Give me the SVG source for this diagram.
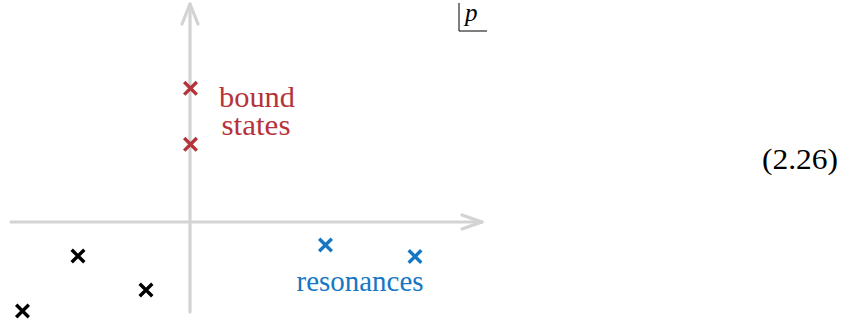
<svg xmlns="http://www.w3.org/2000/svg" width="848" height="322" viewBox="0 0 848 322">
  <style>
    .axis { stroke: #d3d3d3; stroke-width: 3.2; fill: none; stroke-linecap: round; stroke-linejoin: round; }
    .pole { stroke-width: 3.4; fill: none; stroke-linecap: butt; }
    .red { stroke: #b5333a; }
    .blue { stroke: #1577c4; }
    .black { stroke: #000000; }
    .lbl { font-family: "Liberation Serif", "Times New Roman", serif; font-size: 29px; }
    .eq { font-family: "Liberation Serif", "Times New Roman", serif; font-size: 30px; }
  </style>
  <defs>
    <path id="x" d="M-6.3,-6.3 L6.3,6.3 M-6.3,6.3 L6.3,-6.3"/>
  </defs>

  <!-- complex p-plane axes -->
  <g id="axes">
    <path class="axis" d="M190,312 L190,4"/>
    <path class="axis" d="M182,24 L190,4 L198,24"/>
    <path class="axis" d="M11,222 L482,222"/>
    <path class="axis" d="M462,215 L482,222 L462,229"/>
  </g>

  <!-- plane label -->
  <g id="plane-label">
    <path d="M459,3 L459,31 L487,31" stroke="#000" stroke-width="1" fill="none"/>
    <text x="465" y="21" font-family="'Liberation Serif', 'Times New Roman', serif" font-style="italic" font-size="25">p</text>
  </g>

  <!-- bound states -->
  <g id="bound-states">
    <use href="#x" x="190.5" y="88.3" class="pole red"/>
    <use href="#x" x="190.5" y="144.3" class="pole red"/>
    <text class="lbl" x="257" y="107" fill="#b5333a" text-anchor="middle" textLength="76" lengthAdjust="spacingAndGlyphs">bound</text>
    <text class="lbl" x="256" y="135" fill="#b5333a" text-anchor="middle" textLength="69" lengthAdjust="spacingAndGlyphs">states</text>
  </g>

  <!-- resonances -->
  <g id="resonances">
    <use href="#x" x="325.5" y="245" class="pole blue"/>
    <use href="#x" x="415" y="256.5" class="pole blue"/>
    <text class="lbl" x="360" y="291" fill="#1577c4" text-anchor="middle" textLength="127" lengthAdjust="spacingAndGlyphs">resonances</text>
  </g>

  <!-- anti-bound / mirror poles -->
  <g id="other-poles">
    <use href="#x" x="78" y="256" class="pole black"/>
    <use href="#x" x="146" y="290" class="pole black"/>
    <use href="#x" x="22.5" y="311" class="pole black"/>
  </g>

  <!-- equation number -->
  <g id="eq-number">
    <text class="eq" x="800" y="169" text-anchor="middle" textLength="76" lengthAdjust="spacingAndGlyphs">(2.26)</text>
  </g>
</svg>
